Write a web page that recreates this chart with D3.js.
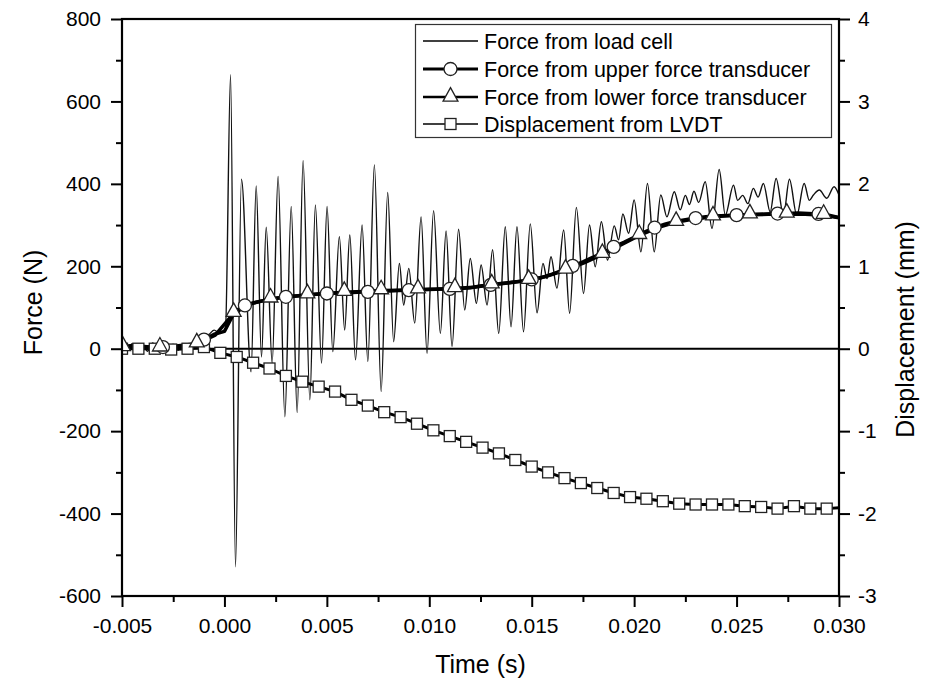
<!DOCTYPE html>
<html><head><meta charset="utf-8">
<script src="https://cdn.jsdelivr.net/npm/d3@7"></script>
<style>
body{margin:0;background:#fff}
svg{display:block}
text{font-family:"Liberation Sans",Arial,Helvetica,sans-serif;fill:#000}
</style>
</head><body>
<svg id="chart" width="928" height="684"></svg>
<script>
// ---------- data (time in ms) ----------
const xTicks = [-0.005, 0.000, 0.005, 0.010, 0.015, 0.020, 0.025, 0.030];
const xTickLabels = ["-0.005", "0.000", "0.005", "0.010", "0.015", "0.020", "0.025", "0.030"];
const xMinorTicks = [-0.0025, 0.0025, 0.0075, 0.0125, 0.0175, 0.0225, 0.0275];
const yLeftTicks = [-600, -400, -200, 0, 200, 400, 600, 800];
const yLeftLabels = ["-600", "-400", "-200", "0", "200", "400", "600", "800"];
const yLeftMinor = [-500, -300, -100, 100, 300, 500, 700];
const yRightTicks = [-3, -2, -1, 0, 1, 2, 3, 4];
const yRightLabels = ["-3", "-2", "-1", "0", "1", "2", "3", "4"];
const yRightMinor = [-2.5, -1.5, -0.5, 0.5, 1.5, 2.5, 3.5];

const legendLabels = [
  "Force from load cell",
  "Force from upper force transducer",
  "Force from lower force transducer",
  "Displacement from LVDT"
];

// Force from load cell (N)
const loadTime = [-5.0,-4.75,-4.5,-4.25,-4.0,-3.75,-3.5,-3.25,-3.0,-2.75,-2.5,-2.25,-2.0,-1.75,-1.5,-1.25,-1.0,-0.75,-0.5,-0.25,0.05,
  0.30,0.54,0.83,1.30,1.55,1.81,2.04,2.33,2.62,2.95,3.26,3.55,3.84,4.17,4.44,4.74,5.01,5.29,5.61,5.87,6.12,6.40,6.72,7.00,7.32,7.65,7.97,8.26,8.54,8.75,
  9.00,9.29,9.60,9.89,10.21,10.54,10.82,11.11,11.43,11.73,12.00,12.30,12.53,12.82,13.09,13.39,13.71,13.99,14.28,14.60,14.93,15.26,15.55,15.75,15.94,16.23,16.56,16.85,
  17.18,17.53,17.82,18.10,18.40,18.70,19.03,19.24,19.45,19.73,20.00,20.33,20.65,20.98,21.30,21.60,21.96,22.25,22.50,22.70,22.92,23.15,23.47,23.80,24.15,24.45,24.85,
  25.05,25.30,25.55,25.82,26.05,26.31,26.64,26.93,27.29,27.58,27.94,28.30,28.55,28.75,29.04,29.40,29.76,30.00];
const loadForce = [5,-4,12,-2,9,-6,14,0,8,-8,10,-3,12,2,18,22,30,35,45,38,48,
  665,-529,411,-56,395,-20,295,-35,418,-165,345,-155,456,-124,349,-35,345,-7,272,45,276,-27,300,-31,446,-104,379,17,207,106,
  195,62,320,-11,335,37,286,5,290,94,219,110,203,106,240,37,296,53,296,41,303,87,207,170,223,147,288,86,
  343,134,300,199,308,215,298,264,327,280,361,235,401,235,373,320,381,337,372,350,382,355,405,292,435,324,397,
  360,372,352,389,368,401,332,413,324,411,324,401,360,373,385,365,393,373];

// Force from upper force transducer (N), every 0.5 ms
const upperTime = [-5.0,-4.5,-4.0,-3.5,-3.0,-2.5,-2.0,-1.5,-1.0,-0.5,0.0,0.5,1.0,1.5,2.0,2.5,3.0,3.5,4.0,4.5,5.0,5.5,6.0,6.5,7.0,7.5,8.0,8.5,9.0,9.5,
  10.0,10.5,11.0,11.5,12.0,12.5,13.0,13.5,14.0,14.5,15.0,15.5,16.0,16.5,17.0,17.5,18.0,18.5,19.0,19.5,20.0,20.5,21.0,21.5,22.0,22.5,23.0,23.5,24.0,24.5,
  25.0,25.5,26.0,26.5,27.0,27.5,28.0,28.5,29.0,29.5,30.0];
const upperForce = [5,8,2,6,4,8,2,10,22,35,42,90,105,112,118,122,126,128,130,132,134,135,136,137,138,139,140,141,142,143,
  144,145,145,146,148,152,155,158,161,164,168,173,181,190,201,211,222,234,247,258,270,283,294,302,309,313,317,320,322,323,
  324,325,326,327,328,328,329,328,327,324,318];
const circleEvery = 4, circleStart = 4;

// Force from lower force transducer (N)
const lowerTime = [-4.95,-4.05,-3.15,-2.25,-1.35,-0.45,0.45,1.35,2.25,3.15,4.05,4.95,5.85,6.75,7.65,8.55,9.45,10.35,11.25,12.15,
  13.05,13.95,14.85,15.75,16.65,17.55,18.45,19.35,20.25,21.15,22.05,22.95,23.85,24.75,25.65,26.55,27.45,28.35,29.25,30.0];
const lowerForce = [3,6,2,7,12,33,86,110,121,126,131,134,137,139,141,142,143,144,146,149,
  155,160,166,176,191,208,229,252,275,294,307,315,320,323,325,326,327,326,324,318];
const triangleEvery = 2, triangleStart = 0;

// Displacement from LVDT (mm), every 0.8 ms
const dispTime = [-5.0,-4.2,-3.4,-2.6,-1.8,-1.0,-0.2,0.6,1.4,2.2,3.0,3.8,4.6,5.4,6.2,7.0,7.8,8.6,9.4,10.2,11.0,11.8,12.6,13.4,14.2,15.0,15.8,16.6,17.4,18.2,
  19.0,19.8,20.6,21.4,22.2,23.0,23.8,24.6,25.4,26.2,27.0,27.8,28.6,29.4,30.0];
const dispValue = [0.0,0.0,0.0,-0.01,0.0,0.02,-0.05,-0.10,-0.17,-0.24,-0.33,-0.40,-0.46,-0.52,-0.62,-0.69,-0.77,-0.83,-0.91,-0.99,-1.06,-1.13,-1.20,-1.27,-1.35,-1.43,-1.50,-1.57,-1.63,-1.69,
  -1.75,-1.80,-1.82,-1.85,-1.88,-1.89,-1.89,-1.89,-1.91,-1.92,-1.94,-1.91,-1.94,-1.94,-1.93];

// ---------- layout ----------
const L = 122, R = 839, T = 19, B = 596;
const FONT_TICK = 21, FONT_TITLE = 25, FONT_LEG = 21.5;

const svg = d3.select("#chart");
const x = d3.scaleLinear().domain([-0.005, 0.030]).range([L, R]);
const yL = d3.scaleLinear().domain([-600, 800]).range([B, T]);
const yR = d3.scaleLinear().domain([-3, 4]).range([B, T]);

const zip = (ts, vs) => ts.map((t, i) => ({t: t / 1000, v: vs[i], i}));
const loadData = zip(loadTime, loadForce);
const upperData = zip(upperTime, upperForce);
const lowerData = zip(lowerTime, lowerForce);
const dispData = zip(dispTime, dispValue);

svg.append("defs").append("clipPath").attr("id", "clip")
  .append("rect").attr("x", L).attr("y", T).attr("width", R - L).attr("height", B - T);

const plot = svg.append("g").attr("clip-path", "url(#clip)");

// zero line
plot.append("line").attr("x1", L).attr("x2", R).attr("y1", yL(0)).attr("y2", yL(0))
  .attr("stroke", "#000").attr("stroke-width", 2);

const lineLoad = d3.line().x(d => x(d.t)).y(d => yL(d.v)).curve(d3.curveMonotoneX);
const lineF = d3.line().x(d => x(d.t)).y(d => yL(d.v));
const lineD = d3.line().x(d => x(d.t)).y(d => yR(d.v));

// load cell
plot.append("path").datum(loadData).attr("d", lineLoad)
  .attr("fill", "none").attr("stroke", "#111").attr("stroke-width", 1.4).attr("stroke-linejoin", "round");

// transducers
plot.append("path").datum(lowerData).attr("d", lineF)
  .attr("fill", "none").attr("stroke", "#000").attr("stroke-width", 3.5).attr("stroke-linejoin", "round");
plot.append("path").datum(upperData).attr("d", lineF)
  .attr("fill", "none").attr("stroke", "#000").attr("stroke-width", 3.5).attr("stroke-linejoin", "round");

// displacement line
plot.append("path").datum(dispData).attr("d", lineD)
  .attr("fill", "none").attr("stroke", "#000").attr("stroke-width", 3).attr("stroke-linejoin", "round");

const mk = {fill: "#fff", stroke: "#222", sw: 1.3};
const triPath = s => `M0,${-s*0.62}L${s*0.55},${s*0.38}L${-s*0.55},${s*0.38}Z`;
const TRI = 13.5;

// markers
plot.selectAll(".sq").data(dispData.filter((d, i) => i < dispData.length - 1))
  .join("rect").attr("x", d => x(d.t) - 5.5).attr("y", d => yR(d.v) - 5.5)
  .attr("width", 11).attr("height", 11)
  .attr("fill", mk.fill).attr("stroke", mk.stroke).attr("stroke-width", mk.sw);

plot.selectAll(".ci").data(upperData.filter(d => d.i >= circleStart && (d.i - circleStart) % circleEvery === 0 && d.t < 0.0295))
  .join("circle").attr("cx", d => x(d.t)).attr("cy", d => yL(d.v)).attr("r", 6.5)
  .attr("fill", mk.fill).attr("stroke", mk.stroke).attr("stroke-width", mk.sw);

plot.selectAll(".tr").data(lowerData.filter(d => d.i >= triangleStart && (d.i - triangleStart) % triangleEvery === 0))
  .join("path").attr("transform", d => `translate(${x(d.t)},${yL(d.v) - 2})`).attr("d", triPath(TRI))
  .attr("fill", mk.fill).attr("stroke", mk.stroke).attr("stroke-width", mk.sw);

// ---------- axes ----------
function styleAxis(g) {
  g.attr("font-family", null);
  g.select(".domain").remove();
  g.selectAll(".tick line").attr("stroke", "#000").attr("stroke-width", 2);
  g.selectAll(".tick text").attr("font-size", FONT_TICK).attr("fill", "#000");
}
svg.append("g").attr("transform", `translate(0,${B})`)
  .call(d3.axisBottom(x).tickValues(xTicks).tickFormat((d, i) => xTickLabels[i]).tickSize(11).tickPadding(11))
  .call(styleAxis);
svg.append("g").attr("transform", `translate(0,${B})`)
  .call(d3.axisBottom(x).tickValues(xMinorTicks).tickFormat("").tickSize(6)).call(styleAxis);

svg.append("g").attr("transform", `translate(${L},0)`)
  .call(d3.axisLeft(yL).tickValues(yLeftTicks).tickFormat((d, i) => yLeftLabels[i]).tickSize(11).tickPadding(10))
  .call(styleAxis);
svg.append("g").attr("transform", `translate(${L},0)`)
  .call(d3.axisLeft(yL).tickValues(yLeftMinor).tickFormat("").tickSize(6)).call(styleAxis);

svg.append("g").attr("transform", `translate(${R},0)`)
  .call(d3.axisRight(yR).tickValues(yRightTicks).tickFormat((d, i) => yRightLabels[i]).tickSize(11).tickPadding(8))
  .call(styleAxis);
svg.append("g").attr("transform", `translate(${R},0)`)
  .call(d3.axisRight(yR).tickValues(yRightMinor).tickFormat("").tickSize(6)).call(styleAxis);

// frame
svg.append("rect").attr("x", L).attr("y", T).attr("width", R - L).attr("height", B - T)
  .attr("fill", "none").attr("stroke", "#000").attr("stroke-width", 2.2);

// titles
svg.append("text").attr("x", (L + R) / 2).attr("y", 673).attr("text-anchor", "middle")
  .attr("font-size", FONT_TITLE).text("Time (s)");
svg.append("text").attr("transform", `translate(42,${(T + B) / 2 - 5}) rotate(-90)`).attr("text-anchor", "middle")
  .attr("font-size", FONT_TITLE).text("Force (N)");
svg.append("text").attr("transform", `translate(914,${(T + B) / 2 + 22}) rotate(-90)`).attr("text-anchor", "middle")
  .attr("font-size", FONT_TITLE).text("Displacement (mm)");

// ---------- legend ----------
const leg = svg.append("g");
leg.append("rect").attr("x", 415.5).attr("y", 24.5).attr("width", 416).attr("height", 113)
  .attr("fill", "#fff").attr("stroke", "#333").attr("stroke-width", 1.2);
const rowY = [41, 69, 97, 124];
const lx1 = 423, lx2 = 478, lmid = 450.5;
const lineW = [1.4, 3, 2.4, 1.6];
legendLabels.forEach((lab, i) => {
  leg.append("line").attr("x1", lx1).attr("x2", lx2).attr("y1", rowY[i]).attr("y2", rowY[i])
    .attr("stroke", "#000").attr("stroke-width", lineW[i]);
  if (i === 1) leg.append("circle").attr("cx", lmid).attr("cy", rowY[i]).attr("r", 6.5)
    .attr("fill", mk.fill).attr("stroke", mk.stroke).attr("stroke-width", mk.sw);
  if (i === 2) leg.append("path").attr("transform", `translate(${lmid},${rowY[i] - 1})`).attr("d", triPath(TRI))
    .attr("fill", mk.fill).attr("stroke", mk.stroke).attr("stroke-width", mk.sw);
  if (i === 3) leg.append("rect").attr("x", lmid - 5.5).attr("y", rowY[i] - 5.5).attr("width", 11).attr("height", 11)
    .attr("fill", mk.fill).attr("stroke", mk.stroke).attr("stroke-width", mk.sw);
  leg.append("text").attr("x", 484).attr("y", rowY[i]).attr("dy", "0.36em")
    .attr("font-size", FONT_LEG).text(lab);
});
</script>
</body></html>
